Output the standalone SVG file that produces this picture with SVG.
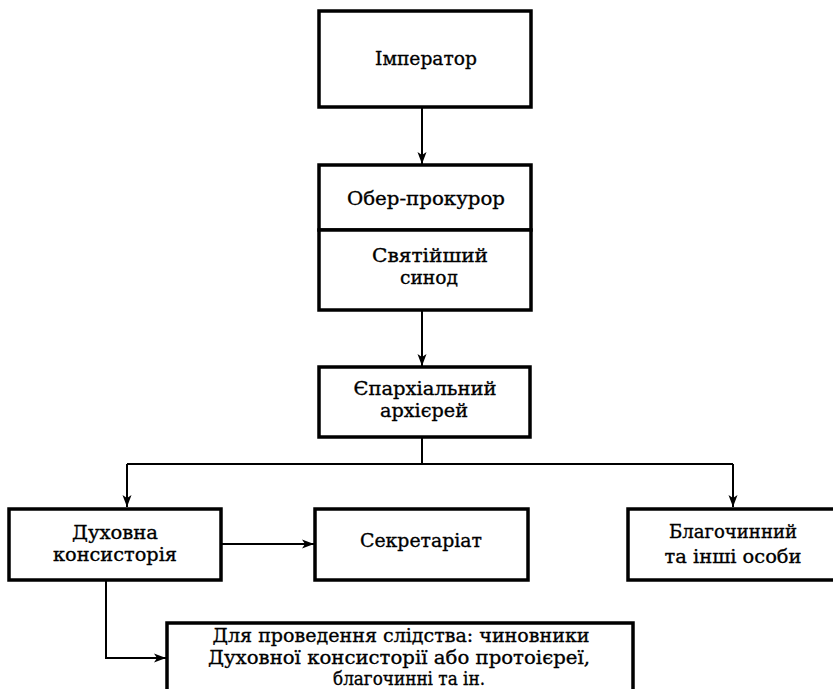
<svg xmlns="http://www.w3.org/2000/svg" width="833" height="689" viewBox="0 0 833 689">
<style>
.box{fill:#fff;stroke:#000;stroke-width:3.5}
.ln{fill:none;stroke:#000;stroke-width:2}
text{font-family:"DejaVu Serif","Liberation Serif",serif;font-size:19px;fill:#000;stroke:#000;stroke-width:0.35;text-anchor:middle}
</style>
<defs>
<marker id="arr" markerUnits="userSpaceOnUse" markerWidth="14" markerHeight="10" refX="12" refY="5" orient="auto">
<path d="M0,0.5 L12,5 L0,9.5 L3,5 Z" fill="#000"/>
</marker>
</defs>
<rect width="833" height="689" fill="#fff"/>
<g id="connectors">
<path class="ln" d="M422,107 V164" marker-end="url(#arr)"/>
<path class="ln" d="M422,310 V366" marker-end="url(#arr)"/>
<path class="ln" d="M422,437 V464"/>
<path class="ln" d="M127,464 H733"/>
<path class="ln" d="M127,464 V507" marker-end="url(#arr)"/>
<path class="ln" d="M733,464 V507" marker-end="url(#arr)"/>
<path class="ln" d="M221,544 H314" marker-end="url(#arr)"/>
<path class="ln" d="M106,580 V658 H166" marker-end="url(#arr)"/>
</g>
<g id="imperator">
<rect class="box" x="319" y="11" width="212" height="96"/>
<text x="426" y="65" textLength="102" lengthAdjust="spacingAndGlyphs">Імператор</text>
</g>
<g id="ober-prokuror">
<rect class="box" x="319" y="165" width="212" height="65"/>
<text x="426" y="205" textLength="158" lengthAdjust="spacingAndGlyphs">Обер-прокурор</text>
</g>
<g id="synod">
<rect class="box" x="319" y="230" width="212" height="80"/>
<text x="430" y="262" textLength="116" lengthAdjust="spacingAndGlyphs">Святійший</text>
<text x="429" y="284" textLength="58" lengthAdjust="spacingAndGlyphs">синод</text>
</g>
<g id="eparkh">
<rect class="box" x="319" y="367" width="211" height="70"/>
<text x="425" y="395" textLength="143" lengthAdjust="spacingAndGlyphs">Єпархіальний</text>
<text x="424" y="417" textLength="88" lengthAdjust="spacingAndGlyphs">архієрей</text>
</g>
<g id="dukhovna">
<rect class="box" x="9" y="509" width="212" height="71"/>
<text x="115" y="539" textLength="86" lengthAdjust="spacingAndGlyphs">Духовна</text>
<text x="115" y="561" textLength="124" lengthAdjust="spacingAndGlyphs">консисторія</text>
</g>
<g id="sekretariat">
<rect class="box" x="315" y="509" width="213" height="71"/>
<text x="421" y="547" textLength="122" lengthAdjust="spacingAndGlyphs">Секретаріат</text>
</g>
<g id="blagochinnyi">
<rect class="box" x="628" y="509" width="215" height="71"/>
<text x="733" y="538" textLength="128" lengthAdjust="spacingAndGlyphs">Благочинний</text>
<text x="733" y="563" textLength="137" lengthAdjust="spacingAndGlyphs">та інші особи</text>
</g>
<g id="slidstvo">
<rect class="box" x="167" y="623" width="466" height="80"/>
<text x="401" y="642" textLength="377" lengthAdjust="spacingAndGlyphs">Для проведення слідства: чиновники</text>
<text x="399" y="664" textLength="382" lengthAdjust="spacingAndGlyphs">Духовної консисторії або протоієреї,</text>
<text x="409" y="685" textLength="152" lengthAdjust="spacingAndGlyphs">благочинні та ін.</text>
</g>
</svg>
